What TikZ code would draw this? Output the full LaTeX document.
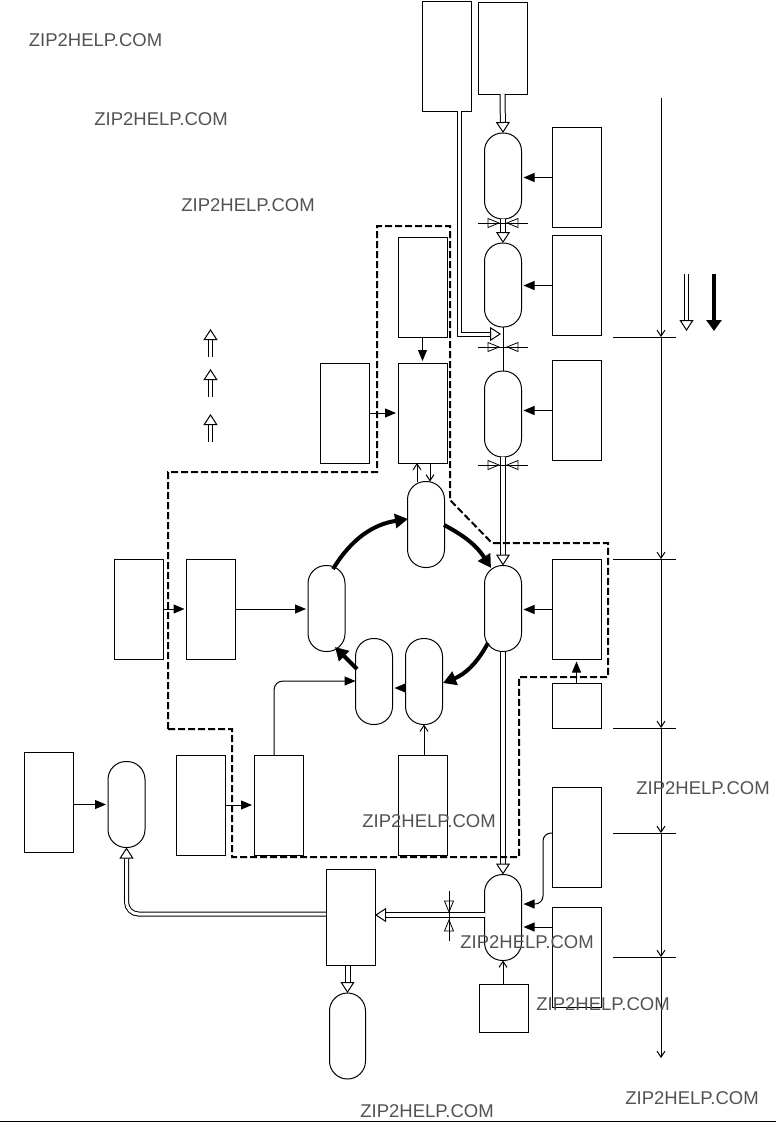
\documentclass[tikz,border=0pt]{standalone}
\usepackage{fontspec}
\setmainfont{Liberation Sans}
\usepackage{xcolor}
\usetikzlibrary{positioning,arrows.meta,calc}

\begin{document}
\begin{tikzpicture}[
  x=1pt, y=-1pt,
  node distance=8pt and 8pt,
  box/.style={draw, line width=1pt, minimum width=49pt, minimum height=100pt, inner sep=0pt, outer sep=0pt},
  lowbox/.style={box, minimum height=45pt},
  vessel/.style={draw, line width=1pt, rounded corners=18pt, minimum width=37pt, minimum height=86pt, inner sep=0pt, outer sep=0pt},
  arr/.style={line width=1pt, -{Triangle[length=11pt,width=9pt]}, shorten >=2pt},
  thin/.style={line width=1pt, -{Straight Barb[length=6pt,width=8pt]}},
  flow/.style={line width=4pt, -{Triangle[length=13pt,width=14pt]}},
  pipe/.style={line width=1pt, double, double distance=4pt, -{Triangle[open,fill=white,length=11pt,width=14pt]}},
  pipeb/.style={pipe, double distance=3pt},
  loopline/.style={line width=2pt, dash pattern=on 7pt off 3pt},
  wm/.style={font=\fontsize{18.5}{20}\selectfont, text=black!68, inner sep=0pt},
  valve/.pic={
    \draw[line width=0.8pt] (-25,0) -- (25,0);
    \draw[line width=0.8pt] (-15,-4.5) -- (-4,0) -- (-15,4.5) -- cycle;
    \draw[line width=0.8pt] (15,-4.5) -- (4,0) -- (15,4.5) -- cycle;
  }
]
\useasboundingbox (0,0) rectangle (776,1122);

% feed side
\node[box, minimum height=110pt] (feedA) at (447,56) {};
\node[box, minimum height=92pt] (feedB) at (502.5,48) {};
\node[box] (doseA) at (576.5,177.5) {};
\node[box, below=8pt of doseA] (doseB) {};
\node[box, below=25pt of doseB] (doseC) {};
\node[vessel] (tankA) at (503,176) {};
\node[vessel, minimum height=84pt] (tankB) at (503,285) {};
\node[vessel] (tankC) at (503,414) {};

% ring
\node[box] (ctrlA) at (422.5,287) {};
\node[box, below=26pt of ctrlA] (ctrlB) {};
\node[box, left=29pt of ctrlB] (ctrlC) {};
\node[vessel] (ringT) at (426,524.5) {};
\node[vessel] (ringE) at (503,608.5) {};
\node[vessel] (ringW) at (326.5,608.5) {};
\node[vessel] (ringS) at (424,681.5) {};
\node[vessel] (ringM) at (374,681.5) {};
\node[box] (doseD) at (576.5,609.5) {};
\node[lowbox, below=24pt of doseD] (doseE) {};
\node[box] (srcB) at (211,609) {};
\node[box, left=23pt of srcB] (srcA) {};

% lower row
\node[box] (rowA) at (48.5,802) {};
\node[vessel] (tankD) at (126.5,804.5) {};
\node[box] (rowB) at (200.5,805) {};
\node[box] (rowC) at (278.5,805) {};
\node[box] (rowD) at (422.5,805) {};
\node[box] (doseF) at (576.5,837) {};
\node[box, below=20pt of doseF] (doseG) {};
\node[vessel] (tankE) at (503,917.5) {};
\node[box, minimum height=96pt] (sep) at (350.5,917.5) {};
\node[vessel, minimum width=36pt] (tankF) at (347.5,1036) {};
\node[box, minimum height=48pt] (aux) at (504,1008.5) {};

% pipes
\draw[pipe] (feedB.south) -- (tankA.north);
\draw[pipe] (tankA.south) -- (tankB.north);
\draw[line width=1pt] (tankB.south) -- (tankC.north);
\draw[pipe] (tankC.south) -- (ringE.north);
\draw[pipe] (ringE.south) -- (tankE.north);
\coordinate (feedIn) at (501,334);
\draw[pipeb] (feedA.south -| 459,0) |- (feedIn);
\draw[pipe] (tankE.west |- 0,915) -- (sep.east |- 0,915);
\draw[pipeb, rounded corners=12pt] (sep.west |- 0,914) -| (tankD.south);
\draw[pipe] (sep.south -| tankF) -- (tankF.north);

% dosing lines
\draw[arr] (doseA.west) -- (doseA.west -| tankA.east);
\draw[arr] (doseB.west) -- (doseB.west -| tankB.east);
\draw[arr] (doseC.west) -- (doseC.west -| tankC.east);
\draw[arr] (doseD.west) -- (doseD.west -| ringE.east);
\draw[arr] (doseE.north) -- (doseD.south);
\draw[arr] (ctrlA.south) -- (ctrlB.north);
\draw[arr] (ctrlC.east) -- (ctrlB.west);
\draw[thin] (ringT.north -| 417,0) -- (ctrlB.south -| 417,0);
\draw[thin] (ctrlB.south -| 430,0) -- (ringT.north -| 430,0);
\draw[arr] (srcA.east) -- (srcB.west);
\draw[arr] (srcB.east) -- (srcB.east -| ringW.west);
\draw[arr] (ringS.west |- 0,688) -- (ringM.east |- 0,688);
\draw[thin] (rowD.north -| ringS) -- (ringS.south);
\draw[arr] (rowA.east |- tankD) -- (tankD.west);
\draw[arr] (rowB.east) -- (rowC.west);
\draw[line width=1pt, -{Triangle[length=11pt,width=9pt]}, rounded corners=9pt] (rowC.north -| 274,0) |- (ringM.west |- 0,681);
\draw[line width=1pt, -{Triangle[length=11pt,width=9pt]}, rounded corners=8pt, shorten >=2pt] (doseF.west |- 0,833) -- (543,833) -- (543,904) -- (tankE.east |- 0,904);
\draw[arr] (doseG.west |- 0,927) -- (tankE.east |- 0,927);
\draw[thin] (aux.north -| tankE) -- (tankE.south);

% main ring
\coordinate (flowA) at (333,569);
\coordinate (flowB) at (408,519);
\coordinate (flowC) at (444,525);
\coordinate (flowD) at (491,568);
\coordinate (flowE) at (488,643);
\coordinate (flowF) at (443,683);
\coordinate (flowG) at (357,669);
\coordinate (flowH) at (335,647);
\draw[flow] (flowA) to[bend left=25] (flowB);
\draw[flow] (flowC) to[bend left=15] (flowD);
\draw[flow] (flowE) to[bend left=20] (flowF);
\draw[flow] (flowG) -- (flowH);

% valves
\pic at (503,223) {valve};
\pic at (503,347) {valve};
\pic at (503,465) {valve};
\pic[rotate=90] at (449,916) {valve};

% boundary
\draw[loopline] (168,729) -- (168,472) -- (377,472) -- (377,226) -- (450,226) -- (450,500) -- (492,543) -- (608,543) -- (608,677) -- (519,677) -- (519,857) -- (232,857) -- (232,729) -- cycle;

% time axis
\coordinate (axisA) at (661,98);
\coordinate (axisB) at (661,337);
\coordinate (axisC) at (661,559);
\coordinate (axisD) at (661,728);
\coordinate (axisE) at (661,833);
\coordinate (axisF) at (661,957);
\coordinate (axisG) at (661,1058);
\draw[thin] (axisA) -- (axisB);
\draw[thin] (axisB) -- (axisC);
\draw[thin] (axisC) -- (axisD);
\draw[thin] (axisD) -- (axisE);
\draw[thin] (axisE) -- (axisF);
\draw[thin] (axisF) -- (axisG);
\draw[line width=1pt] ($(axisB)+(-48,0)$) -- ($(axisB)+(15,0)$);
\draw[line width=1pt] ($(axisC)+(-48,0)$) -- ($(axisC)+(15,0)$);
\draw[line width=1pt] ($(axisD)+(-48,0)$) -- ($(axisD)+(15,0)$);
\draw[line width=1pt] ($(axisE)+(-48,0)$) -- ($(axisE)+(15,0)$);
\draw[line width=1pt] ($(axisF)+(-48,0)$) -- ($(axisF)+(15,0)$);

% legend
\coordinate (keyA) at (686.5,274);
\coordinate (keyB) at (714,274);
\draw[pipe, double distance=2.5pt] (keyA) -- ++(0,57);
\draw[line width=4pt, -{Triangle[length=11pt,width=15pt]}] (keyB) -- ++(0,57);
\coordinate (upA) at (210.5,357);
\coordinate (upB) at (210.5,397);
\coordinate (upC) at (210.5,442);
\draw[pipe, double distance=3pt] (upA) -- ++(0,-28);
\draw[pipe, double distance=3pt] (upB) -- ++(0,-28);
\draw[pipe, double distance=3pt] (upC) -- ++(0,-28);

% bottom rule
\coordinate (ruleA) at (0,1121);
\draw[line width=1pt] (ruleA) -- ++(776,0);

% site marks
\node[wm] (markA) at (95.5,40.5) {ZIP2HELP.COM};
\node[wm] (markB) at (161,119.5) {ZIP2HELP.COM};
\node[wm] (markC) at (248,205.5) {ZIP2HELP.COM};
\node[wm] (markD) at (703,788) {ZIP2HELP.COM};
\node[wm] (markE) at (429,821) {ZIP2HELP.COM};
\node[wm] (markF) at (527,942.5) {ZIP2HELP.COM};
\node[wm] (markG) at (603,1004.5) {ZIP2HELP.COM};
\node[wm] (markH) at (692,1098.5) {ZIP2HELP.COM};
\node[wm] (markI) at (427,1111.5) {ZIP2HELP.COM};
\end{tikzpicture}
\end{document}
